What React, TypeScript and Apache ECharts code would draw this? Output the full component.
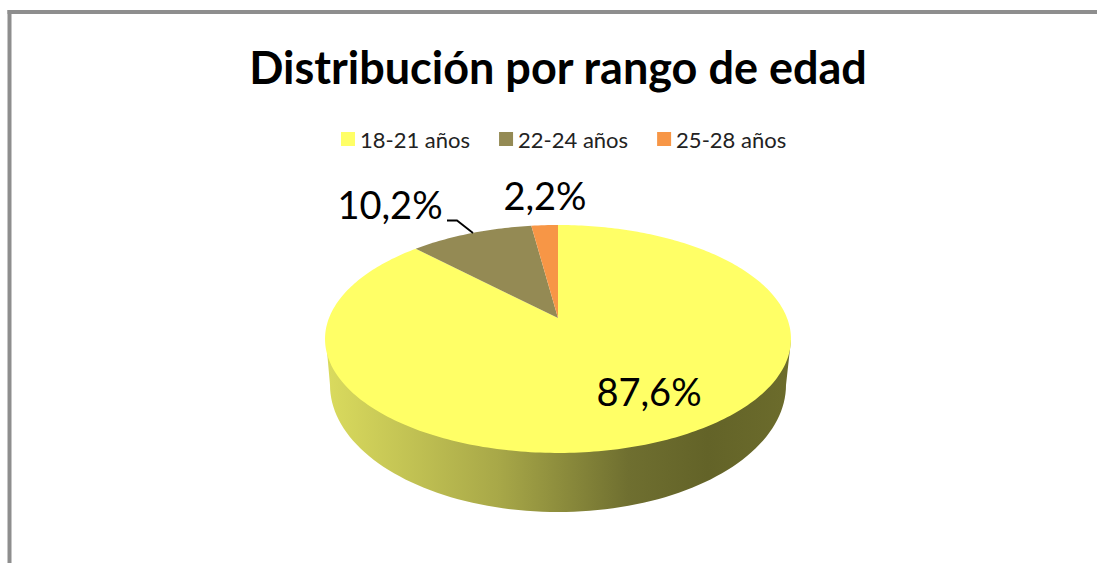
import React, { useEffect, useRef } from "react";
import * as echarts from "echarts";

const CATEGORIES = ["18-21 años", "22-24 años", "25-28 años"];
const VALUES = [87.6, 10.2, 2.2];
const COLORS = ["#FFFF66", "#948A54", "#F79646"];
const TITLE = "Distribución por rango de edad";

// Layout of the tilted pie (perspective projection of a unit circle)
const CX = 558;
const CY = 318;
const AX = 229;
const BY = 110.1;
const K = 0.184;
const LABEL_POS = [
  [649, 391],
  [390, 204],
  [545, 195],
];

function project(deg: number) {
  const a = (deg * Math.PI) / 180;
  const u = Math.sin(a);
  const v = -Math.cos(a);
  const d = 1 - K * v;
  return [CX + (AX * u) / d, CY + (BY * v) / d];
}

function formatPct(v: number) {
  return v.toFixed(1).replace(".", ",") + "%";
}

function renderSlice(index: number) {
  return (_params: any, api: any) => {
    const total = VALUES.reduce((a, b) => a + b, 0);
    const before = VALUES.slice(0, index).reduce((a, b) => a + b, 0);
    const start = (before / total) * 360;
    const end = start + (api.value(0) / total) * 360;
    const children: any[] = [];

    if (index === 0) {
      const side: number[][] = [[326, 340]];
      for (let t = 180; t >= 0; t -= 2) {
        const a = (t * Math.PI) / 180;
        side.push([CX + 228 * Math.cos(a), 385 + 127 * Math.sin(a)]);
      }
      side.push([791, 340]);
      children.push({
        type: "polygon",
        shape: { points: side },
        style: {
          fill: new echarts.graphic.LinearGradient(0, 0, 1, 0, [
            { offset: 0, color: "#DADB5E" },
            { offset: 0.37, color: "#A8A848" },
            { offset: 0.65, color: "#6F6F30" },
            { offset: 0.82, color: "#636328" },
            { offset: 1, color: "#6C6C2C" },
          ]),
        },
      });
    }

    const pts: number[][] = [[CX, CY]];
    const steps = Math.max(2, Math.ceil(end - start));
    for (let i = 0; i <= steps; i++) {
      pts.push(project(start + ((end - start) * i) / steps));
    }
    children.push({
      type: "polygon",
      shape: { points: pts },
      style: { fill: COLORS[index] },
    });

    if (index === 1) {
      children.push({
        type: "polyline",
        shape: { points: [[447, 220.5], [457, 220.5], [473, 233]] },
        style: { stroke: "#000", lineWidth: 1.8, fill: "none" },
      });
    }

    children.push({
      type: "text",
      z2: 10,
      style: {
        text: formatPct(api.value(0)),
        x: LABEL_POS[index][0],
        y: LABEL_POS[index][1],
        fill: "#000",
        fontSize: 38,
        fontFamily: "Lato",
        align: "center",
        verticalAlign: "middle",
      },
    });
    return { type: "group", children };
  };
}

export default function App() {
  const ref = useRef<HTMLDivElement>(null);
  useEffect(() => {
    document.body.style.margin = "0";
    const chart = echarts.init(ref.current!, null, { renderer: "svg" });
    chart.setOption({
      animation: false,
      backgroundColor: "#fff",
      title: {
        text: TITLE,
        left: 553,
        top: 39,
        textAlign: "center",
        textStyle: { fontFamily: "Lato", fontWeight: "bold", fontSize: 45, color: "#000" },
      },
      legend: {
        data: CATEGORIES,
        left: 336,
        top: 123,
        icon: "rect",
        itemWidth: 14,
        itemHeight: 14,
        itemGap: 29,
        selectedMode: false,
        textStyle: { fontFamily: "Lato", fontSize: 22, color: "#222" },
      },
      graphic: [
        { type: "rect", shape: { x: 7.5, y: 10, width: 1200, height: 4 }, style: { fill: "#8E8E8E" }, silent: true, z: -9 },
        { type: "rect", shape: { x: 7.5, y: 10, width: 4, height: 800 }, style: { fill: "#8E8E8E" }, silent: true, z: -9 },
      ],
      series: CATEGORIES.map((name, i) => ({
        type: "custom",
        name,
        coordinateSystem: "none",
        itemStyle: { color: COLORS[i] },
        renderItem: renderSlice(i),
        data: [[VALUES[i]]],
        z: 2 + i,
      })),
    });
    return () => chart.dispose();
  }, []);
  return (
    <div
      ref={ref}
      style={{ position: "fixed", left: 0, top: 0, width: 1097, height: 563 }}
    />
  );
}
